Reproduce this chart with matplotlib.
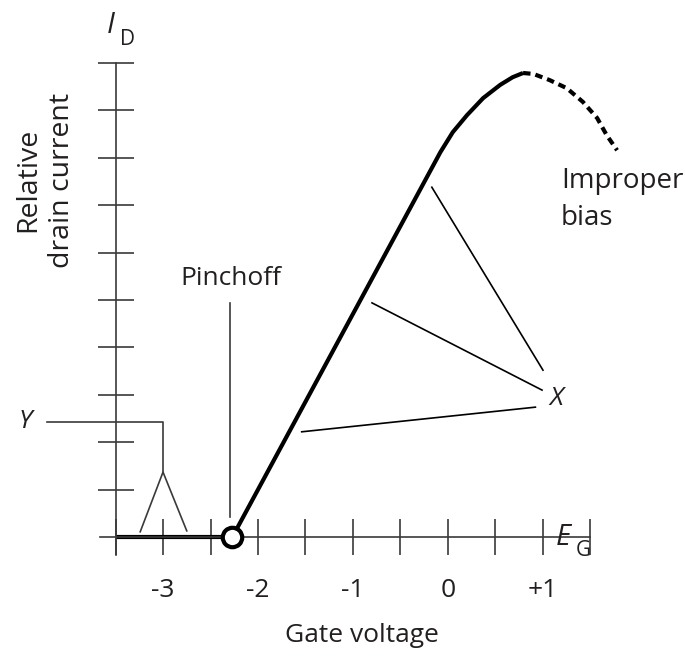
import matplotlib.pyplot as plt
import numpy as np

plt.rcParams['font.family'] = ['Open Sans', 'DejaVu Sans']

# curve (gate voltage, relative drain current)
flat_x = [-3.5, -2.27]
flat_y = [0, 0]
rise_x = [-2.27, -0.08, 0.05, 0.20, 0.37, 0.55, 0.68, 0.79]
rise_y = [0, 8.12, 8.54, 8.90, 9.26, 9.54, 9.70, 9.79]
bad_x = [0.79, 0.90, 1.07, 1.25, 1.42, 1.57, 1.67, 1.78]
bad_y = [9.79, 9.77, 9.64, 9.47, 9.18, 8.84, 8.48, 8.16]

pinch_x = -2.27

# leader lines to X
x_from = [-0.17, -0.80, -1.54]
y_from = [7.38, 4.94, 2.22]
x_to = [1.00, 0.99, 0.92]
y_to = [3.52, 3.10, 2.74]

# Y marker
y_level = 2.43
y_tri_x = [-3.24, -3.0, -2.75]
y_tri_y = [0.11, 1.37, 0.13]

xticks = np.arange(-3.5, 1.51, 0.5)
xlabels = ['-3', '-2', '-1', '0', '+1']
xlabel_pos = [-3, -2, -1, 0, 1]
yticks = np.arange(1, 11)

txt = '#231f20'
axc = '#3a3a3a'

fig = plt.figure(figsize=(6.85, 6.56), dpi=100)
ax = fig.add_axes([0, 0, 1, 1])
ax.set_xlim(-4.716, 2.495)
ax.set_ylim(-2.51, 11.33)
ax.patch.set_visible(False)

for s in ['top', 'right']:
    ax.spines[s].set_visible(False)
ax.spines['left'].set_position(('data', -3.5))
ax.spines['bottom'].set_position(('data', 0))
ax.spines['left'].set_bounds(-0.38, 10)
ax.spines['bottom'].set_bounds(-3.66, 1.5)
for s in ['left', 'bottom']:
    ax.spines[s].set_color(axc)
    ax.spines[s].set_linewidth(1.2)

ax.set_xticks(xticks)
ax.set_xticklabels([])
ax.set_yticks(yticks)
ax.set_yticklabels([])
ax.tick_params(direction='inout', length=26, width=1.2, color=axc)

for v, lab in zip(xlabel_pos, xlabels):
    ax.text(v, -1.12, lab, ha='center', va='center', fontsize=19, color=txt)

# characteristic curve
ax.plot(flat_x, flat_y, color='black', lw=3.0, solid_capstyle='butt')
ax.plot(rise_x, rise_y, color='black', lw=3.0, solid_capstyle='butt')
ax.plot(bad_x, bad_y, color='black', lw=3.0, linestyle=(0, (1.8, 1.2)))
ax.plot([pinch_x], [0], 'o', ms=14, mfc='white', mec='black', mew=3, zorder=5)

# pinchoff leader
ax.plot([-2.29, -2.29], [0.42, 4.94], color=axc, lw=1.2)
ax.text(-2.29, 5.46, 'Pinchoff', ha='center', va='center', fontsize=19, color=txt)

# X leaders
for a, b, c, d in zip(x_from, y_from, x_to, y_to):
    ax.plot([a, c], [b, d], color='black', lw=1.2)
ax.text(1.14, 2.93, 'X', ha='center', va='center', fontsize=19, color=txt, style='italic')

# Y marker
ax.plot([-4.22, -3.0, -3.0], [y_level, y_level, 1.37], color=axc, lw=1.2)
ax.plot(y_tri_x, y_tri_y, color=axc, lw=1.2)
ax.text(-4.45, y_level, 'Y', ha='center', va='center', fontsize=19, color=txt, style='italic')

ax.text(1.19, 7.12, 'Improper\nbias', ha='left', va='center', fontsize=20,
        color=txt, linespacing=1.4)

# axis names
ax.text(-3.55, 10.8, 'I', ha='center', va='center', fontsize=21, color=txt, style='italic')
ax.text(-3.37, 10.5, 'D', ha='center', va='center', fontsize=15, color=txt)
ax.text(1.21, 0.0, 'E', ha='center', va='center', fontsize=21, color=txt, style='italic')
ax.text(1.42, -0.28, 'G', ha='center', va='center', fontsize=15, color=txt)
ax.text(-4.24, 7.53, 'Relative\ndrain current', ha='center', va='center',
        rotation=90, fontsize=20.5, color=txt, linespacing=1.3)
ax.text(-0.905, -2.07, 'Gate voltage', ha='center', va='center', fontsize=19, color=txt)

fig.savefig('out.png', dpi=100, facecolor='white')
